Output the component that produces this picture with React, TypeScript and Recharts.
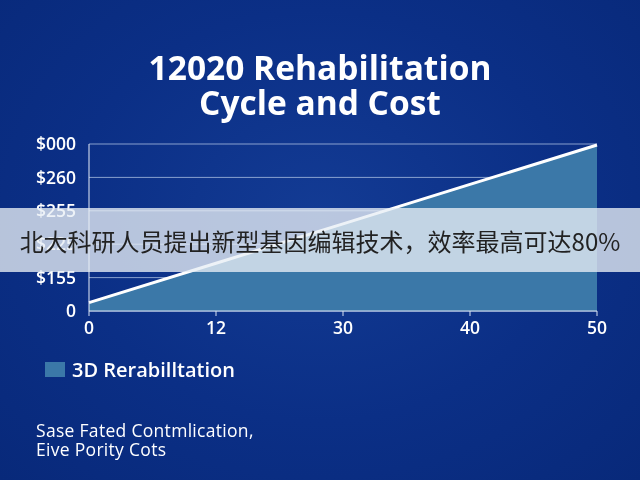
import React from "react"
import { AreaChart, Area, XAxis, YAxis, CartesianGrid } from "recharts"

const cycles = ["0", "12", "30", "40", "50"]
const costs = [25, 143, 261, 379, 497]
const yTicks = [0, 100, 200, 300, 400, 500]
const yLabels = ["0", "$155", "$225", "$255", "$260", "$000"]

const FONT = "'Open Sans', 'Noto Sans', sans-serif"

const data = cycles.map((c, i) => ({ cycle: c, cost: costs[i] }))

export default function App() {
  return (
    <div
      style={{
        position: "fixed",
        left: 0,
        top: 0,
        width: 640,
        height: 480,
        overflow: "hidden",
        background: "radial-gradient(ellipse at 50% 45%, #133b94 0%, #0b2f86 55%, #08297a 100%)",
        fontFamily: FONT,
      }}
    >
      <div
        style={{
          position: "absolute",
          top: 50,
          width: 640,
          textAlign: "center",
          color: "#fff",
          fontSize: 33.5,
          fontWeight: 700,
          lineHeight: "35px",
        }}
      >
        <div>12020 Rehabilitation</div>
        <div>Cycle and Cost</div>
      </div>

      <div style={{ position: "absolute", left: 0, top: 0 }}>
        <AreaChart width={640} height={480} data={data} margin={{ top: 144, right: 43, left: 29, bottom: 139 }}>
          <CartesianGrid vertical={false} stroke="#b3c5e6" strokeOpacity={0.75} />
          <XAxis
            dataKey="cycle"
            stroke="#d8e2f2"
            tickSize={5}
            tickMargin={6}
            height={30}
            tick={{ fill: "#fff", fontSize: 17.5, fontWeight: 600, fontFamily: FONT }}
          />
          <YAxis
            domain={[0, 500]}
            ticks={yTicks}
            tickFormatter={(v: number) => yLabels[yTicks.indexOf(v)]}
            width={60}
            stroke="#e8eef8"
            tickSize={0}
            tickMargin={13}
            tick={{ fill: "#fff", fontSize: 17.5, fontWeight: 600, fontFamily: FONT }}
          />
          <Area
            type="linear"
            dataKey="cost"
            name="3D Rerabilltation"
            stroke="#ffffff"
            strokeWidth={3}
            fill="#3b78a8"
            fillOpacity={1}
            isAnimationActive={false}
          />
        </AreaChart>
      </div>

      <div style={{ position: "absolute", left: 45, top: 356, display: "flex", alignItems: "center" }}>
        <div style={{ width: 20, height: 15, background: "#3b78a8", marginRight: 7 }} />
        <span style={{ color: "#fff", fontSize: 20, fontWeight: 600 }}>3D Rerabilltation</span>
      </div>

      <div
        style={{
          position: "absolute",
          left: 0,
          top: 208,
          width: 640,
          height: 64,
          background: "rgba(232, 238, 245, 0.78)",
          display: "flex",
          alignItems: "center",
          justifyContent: "center",
          fontFamily: "'Noto Sans CJK SC', sans-serif",
          fontSize: 24,
          color: "#222",
        }}
      >
        北大科研人员提出新型基因编辑技术，效率最高可达80%
      </div>

      <div
        style={{
          position: "absolute",
          left: 36,
          top: 421,
          color: "#fff",
          fontSize: 17.5,
          letterSpacing: 0.3,
          lineHeight: "19px",
        }}
      >
        <div>Sase Fated Contmlication,</div>
        <div>Eive Pority Cots</div>
      </div>
    </div>
  )
}
